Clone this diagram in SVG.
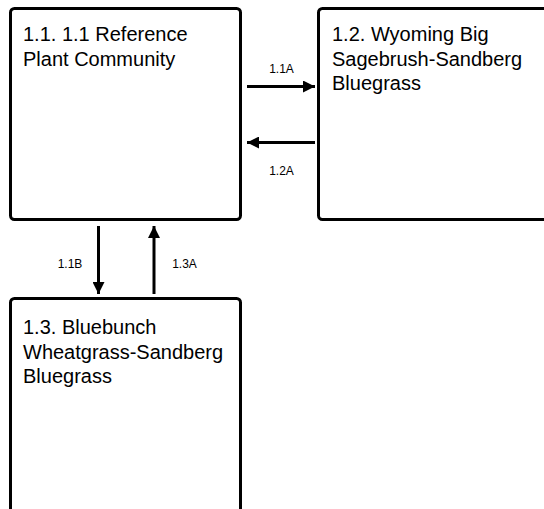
<svg xmlns="http://www.w3.org/2000/svg" width="544" height="509" viewBox="0 0 544 509">
<style>
.box{fill:#fff;stroke:#000;stroke-width:3}
.t{font-family:"Liberation Sans",Arial,sans-serif;font-size:20px;fill:#000}
.l{font-family:"Liberation Sans",Arial,sans-serif;font-size:12px;fill:#000;text-anchor:middle}
.c{stroke:#000;stroke-width:3;fill:none}
</style>
<defs>
<marker id="ah" viewBox="0 0 12 12" refX="12" refY="6" markerWidth="12" markerHeight="12" markerUnits="userSpaceOnUse" orient="auto">
<path d="M0,0 L12,6 L0,12 Z" fill="#000"/>
</marker>
</defs>
<rect width="544" height="509" fill="#fff"/>
<g id="n11">
<rect class="box" x="10.5" y="8.5" width="230" height="211" rx="4"/>
<text class="t" x="23" y="41">1.1. 1.1 Reference</text>
<text class="t" x="23" y="65.5">Plant Community</text>
</g>
<g id="n12">
<rect class="box" x="318.5" y="8.5" width="232" height="211" rx="4"/>
<text class="t" x="332" y="41">1.2. Wyoming Big</text>
<text class="t" x="332" y="65.5">Sagebrush-Sandberg</text>
<text class="t" x="332" y="90">Bluegrass</text>
</g>
<g id="n13">
<rect class="box" x="10.5" y="298.5" width="230" height="220" rx="4"/>
<text class="t" x="23" y="334">1.3. Bluebunch</text>
<text class="t" x="23" y="358.5">Wheatgrass-Sandberg</text>
<text class="t" x="23" y="383">Bluegrass</text>
</g>
<g id="connectors">
<line class="c" x1="247" y1="86.5" x2="315" y2="86.5" marker-end="url(#ah)"/>
<line class="c" x1="315" y1="142.5" x2="247" y2="142.5" marker-end="url(#ah)"/>
<line class="c" x1="98.5" y1="226" x2="98.5" y2="294" marker-end="url(#ah)"/>
<line class="c" x1="154" y1="294" x2="154" y2="226" marker-end="url(#ah)"/>
<text class="l" x="281.5" y="73">1.1A</text>
<text class="l" x="281.5" y="175">1.2A</text>
<text class="l" x="70" y="268">1.1B</text>
<text class="l" x="184.5" y="268">1.3A</text>
</g>
</svg>
